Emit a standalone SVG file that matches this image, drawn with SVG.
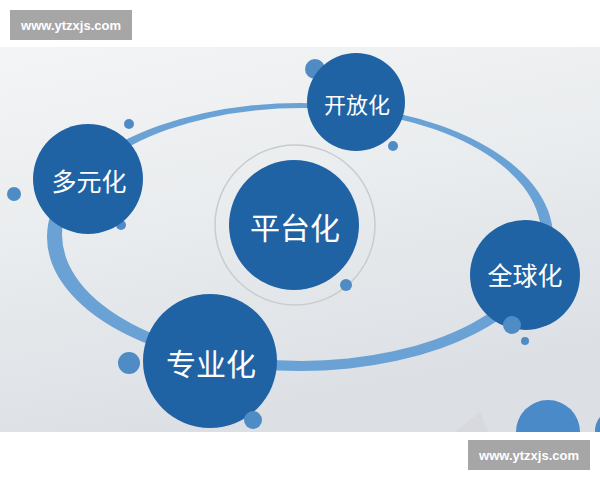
<svg xmlns="http://www.w3.org/2000/svg" width="600" height="480" viewBox="0 0 600 480">
<defs>
<linearGradient id="bg" x1="0" y1="0" x2="0.3" y2="1">
<stop offset="0" stop-color="#f3f4f5"/>
<stop offset="0.5" stop-color="#e9ecee"/>
<stop offset="1" stop-color="#dcdfe4"/>
</linearGradient>
<style>
.node{fill:#1f63a5}
.dot{fill:#4f8cc6}
.lbl{fill:#ffffff;font-family:"Noto Sans CJK SC","Noto Sans",sans-serif;text-anchor:middle;dominant-baseline:central}
.wm{fill:#a6a6a6}
.wmt{fill:#ffffff;font-family:"Liberation Sans",Arial,sans-serif;font-weight:bold;font-size:13px;text-anchor:middle}
</style>
</defs>
<rect width="600" height="480" fill="#ffffff"/>
<rect x="0" y="47" width="600" height="385" fill="url(#bg)"/>
<polygon points="455,432 480,412 488,432" fill="#d3d6db" opacity="0.6"/>
<g id="connectors">
<path fill="#6aa2d6" fill-rule="evenodd" d="M47,237 a253,134 0 1,0 506,0 a253,134 0 1,0 -506,0 Z M62,234.5 a239.5,126.5 0 1,0 479,0 a239.5,126.5 0 1,0 -479,0 Z"/>
<circle cx="295" cy="225" r="80" fill="none" stroke="#c9cbcf" stroke-width="1.5"/>
</g>
<g id="dots-back">
<circle class="dot" cx="315" cy="69" r="10"/>
<circle class="dot" cx="121" cy="225" r="5"/>
</g>
<g id="node-duoyuan">
<circle class="node" cx="88" cy="179" r="55"/>
<text class="lbl" x="89" y="180" font-size="25">多元化</text>
</g>
<g id="node-kaifang">
<circle class="node" cx="356" cy="102" r="49"/>
<text class="lbl" x="357" y="103" font-size="22">开放化</text>
</g>
<g id="node-pingtai">
<circle class="node" cx="294" cy="225" r="65"/>
<text class="lbl" x="295" y="226" font-size="30">平台化</text>
</g>
<g id="node-quanqiu">
<circle class="node" cx="525" cy="275" r="55"/>
<text class="lbl" x="525" y="274" font-size="25">全球化</text>
</g>
<g id="node-zhuanye">
<circle class="node" cx="210" cy="361" r="67"/>
<text class="lbl" x="211" y="362" font-size="30">专业化</text>
</g>
<g id="dots-front">
<circle class="dot" cx="129" cy="124" r="5"/>
<circle class="dot" cx="14" cy="194" r="7"/>
<circle class="dot" cx="393" cy="146" r="5"/>
<circle class="dot" cx="346" cy="285" r="6"/>
<circle class="dot" cx="512" cy="325" r="9"/>
<circle class="dot" cx="525" cy="341" r="4"/>
<circle class="dot" cx="129" cy="363" r="11"/>
<circle class="dot" cx="253" cy="420" r="9"/>
</g>
<g id="partial-circles">
<path d="M516,432 A32,32 0 0,1 580,432 Z" fill="#4a8ac8"/>
<path d="M595,432 A22,22 0 0,1 600,417 L600,432 Z" fill="#4a8ac8"/>
</g>
<g id="watermark-top">
<rect class="wm" x="10" y="10" width="122" height="30"/>
<text class="wmt" x="71" y="30">www.ytzxjs.com</text>
</g>
<g id="watermark-bottom">
<rect class="wm" x="468" y="440" width="122" height="30"/>
<text class="wmt" x="529" y="460">www.ytzxjs.com</text>
</g>
</svg>
